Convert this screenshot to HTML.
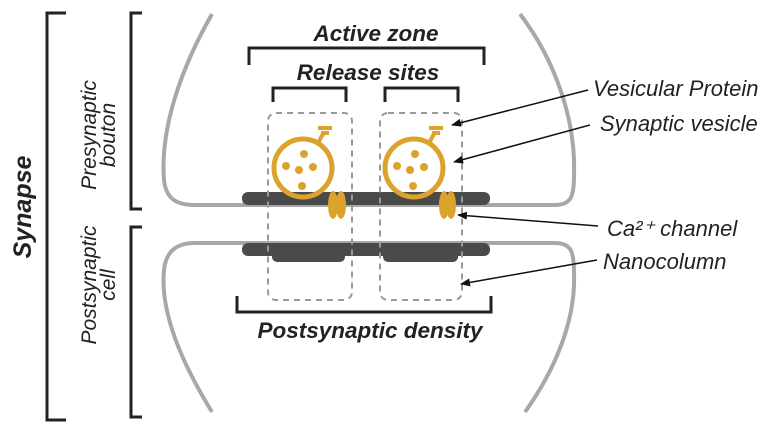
<!DOCTYPE html>
<html><head><meta charset="utf-8"><style>
html,body{margin:0;padding:0;background:#fff;width:774px;height:448px;overflow:hidden}
svg text{font-family:"Liberation Sans",Arial,sans-serif;fill:#222}
</style></head><body>
<svg width="774" height="448" viewBox="0 0 774 448" xmlns="http://www.w3.org/2000/svg">
<defs>
<marker id="ah" markerWidth="10" markerHeight="8" refX="9" refY="4" orient="auto" markerUnits="userSpaceOnUse">
<path d="M0,0 L10,4 L0,8 z" fill="#111"/></marker>
</defs>
<!-- left brackets -->
<g fill="none" stroke="#222" stroke-width="3">
<path d="M66,13 H47 V420 H66"/>
<path d="M142,13 H131 V209 H142"/>
<path d="M142,227 H131 V417 H142"/>
</g>
<text transform="translate(31,207) rotate(-90)" text-anchor="middle" font-size="25" font-weight="bold" font-style="italic">Synapse</text>
<text transform="translate(96,135) rotate(-90)" text-anchor="middle" font-size="21" font-style="italic">Presynaptic</text>
<text transform="translate(115,135) rotate(-90)" text-anchor="middle" font-size="21" font-style="italic">bouton</text>
<text transform="translate(96,285) rotate(-90)" text-anchor="middle" font-size="21" font-style="italic">Postsynaptic</text>
<text transform="translate(115,285) rotate(-90)" text-anchor="middle" font-size="21" font-style="italic">cell</text>
<!-- membranes -->
<g fill="none" stroke="#a8a8a8" stroke-width="4">
<path d="M212,14 C180,70 160,130 164,180 C166,200 178,205 195,205 H555 C572,205 574,195 574,175 C576,120 555,60 520,14"/>
<path d="M212,412 C180,360 160,310 164,270 C166,250 178,243 195,243 H555 C572,243 574,253 574,273 C576,320 555,370 525,412"/>
</g>
<!-- dark bars -->
<rect x="242" y="192" width="248" height="13" rx="6" fill="#4a4a4a"/>
<rect x="242" y="243" width="248" height="13" rx="6" fill="#4a4a4a"/>
<rect x="272" y="250" width="73" height="12" rx="5" fill="#4a4a4a"/>
<rect x="383" y="250" width="75" height="12" rx="5" fill="#4a4a4a"/>
<!-- dashed boxes -->
<g fill="none" stroke="#999" stroke-width="2" stroke-dasharray="6,5">
<rect x="268" y="113" width="84" height="187" rx="8"/>
<rect x="380" y="113" width="82" height="187" rx="8"/>
</g>
<!-- vesicles -->
<g fill="#dba22c" stroke="#dba22c">
<circle cx="303" cy="168" r="29" fill="none" stroke-width="5"/>
<circle cx="414" cy="168" r="29" fill="none" stroke-width="5"/>
<path d="M317,145 L324,132" stroke-width="4"/><path d="M318,128 h14 M321,133 h8" stroke-width="4"/>
<path d="M428,145 L435,132" stroke-width="4"/><path d="M429,128 h14 M432,133 h8" stroke-width="4"/>
<g stroke="none">
<circle cx="304" cy="154" r="4"/><circle cx="286" cy="166" r="4"/><circle cx="299" cy="170" r="4"/><circle cx="313" cy="167" r="4"/><circle cx="302" cy="186" r="4"/>
<circle cx="415" cy="154" r="4"/><circle cx="397" cy="166" r="4"/><circle cx="410" cy="170" r="4"/><circle cx="424" cy="167" r="4"/><circle cx="413" cy="186" r="4"/>
<ellipse cx="333" cy="205" rx="5" ry="14"/><ellipse cx="341" cy="205" rx="5" ry="14"/>
<ellipse cx="444" cy="205" rx="5" ry="14"/><ellipse cx="451" cy="205" rx="5" ry="14"/>
</g></g>
<!-- top brackets -->
<g fill="none" stroke="#222" stroke-width="3">
<path d="M249,65 V48 H484 V65"/>
<path d="M273,102 V88 H346 V102"/>
<path d="M385,102 V88 H458 V102"/>
<path d="M237,296 V312 H491 V296"/>
</g>
<text x="376" y="41" text-anchor="middle" font-size="22.5" font-weight="bold" font-style="italic">Active zone</text>
<text x="368" y="80" text-anchor="middle" font-size="22.5" font-weight="bold" font-style="italic">Release sites</text>
<text x="370" y="338" text-anchor="middle" font-size="22.5" font-weight="bold" font-style="italic">Postsynaptic density</text>
<!-- right labels -->
<g font-size="22" font-style="italic">
<text x="593" y="96">Vesicular Protein</text>
<text x="600" y="131">Synaptic vesicle</text>
<text x="607" y="236">Ca²⁺ channel</text>
<text x="603" y="269">Nanocolumn</text>
</g>
<g stroke="#111" stroke-width="1.5" marker-end="url(#ah)">
<line x1="588" y1="90" x2="452" y2="125"/>
<line x1="590" y1="125" x2="454" y2="162"/>
<line x1="598" y1="226" x2="458" y2="215"/>
<line x1="597" y1="260" x2="461" y2="284"/>
</g>
</svg>
</body></html>
